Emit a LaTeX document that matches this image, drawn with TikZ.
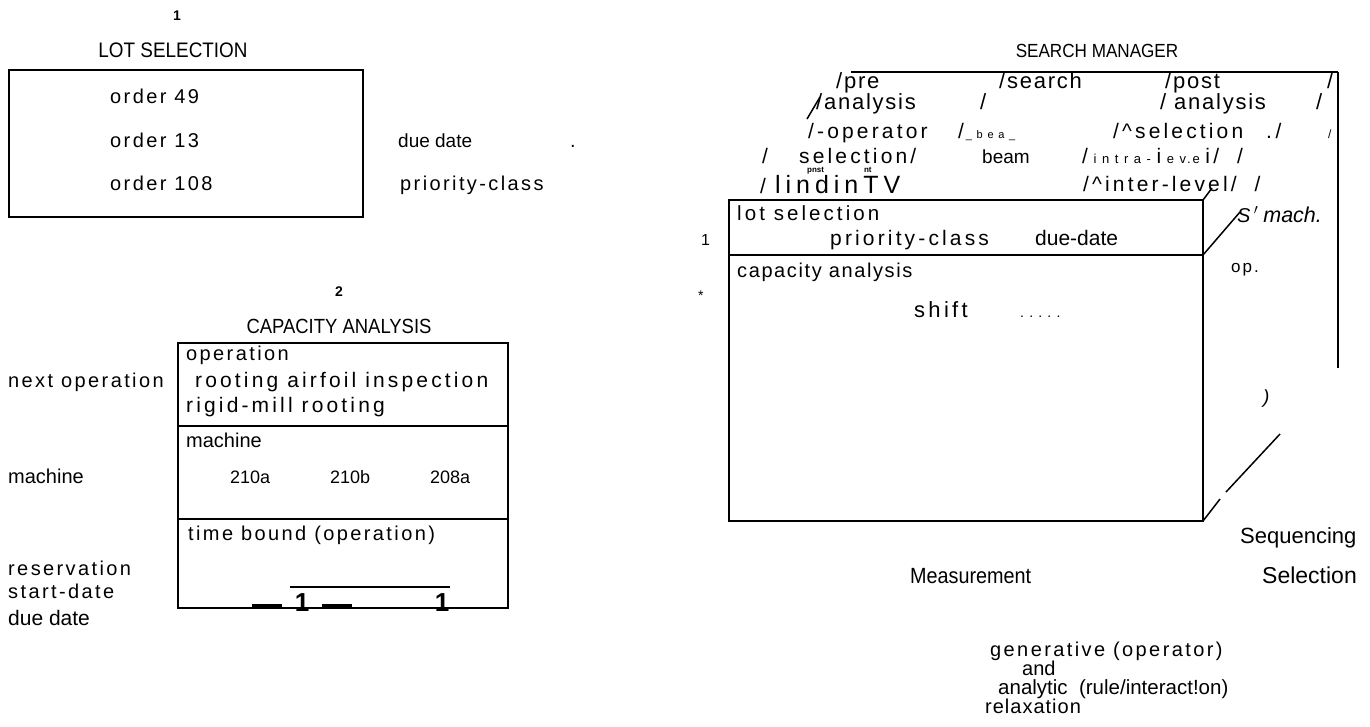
\documentclass[tikz,border=0pt]{standalone}
\usepackage{fontspec}
\setmainfont{Liberation Sans}
\newfontfamily\spc[LetterSpace=12]{Liberation Sans}
\newfontfamily\spw[LetterSpace=15]{Liberation Sans}
\newfontfamily\spm[LetterSpace=8]{Liberation Sans}
\newfontfamily\spl[LetterSpace=5]{Liberation Sans}
\newfontfamily\nrw[FakeStretch=0.9]{Liberation Sans}
\begin{document}
\begin{tikzpicture}[x=1pt,y=-1pt,
  tx/.style={inner sep=0pt, anchor=base west, font=\spc\fontsize{20}{22}\selectfont},
  tw/.style={inner sep=0pt, anchor=base west, font=\spw\fontsize{21}{23}\selectfont},
  tl/.style={inner sep=0pt, anchor=base west, font=\spl\fontsize{20}{22}\selectfont},
  pl/.style={inner sep=0pt, anchor=base west, font=\fontsize{20}{22}\selectfont},
  hd/.style={inner sep=0pt, anchor=base, font=\nrw\fontsize{19}{21}\selectfont},
  nr/.style={inner sep=0pt, anchor=base west, font=\nrw\fontsize{20}{22}\selectfont},
  big/.style={inner sep=0pt, anchor=base west, font=\spm\fontsize{22}{24}\selectfont},
  num/.style={inner sep=0pt, anchor=base, font=\bfseries\fontsize{14}{16}\selectfont},
  frame/.style={draw, line width=2pt},
  edge/.style={draw, line width=1.5pt},
]
\useasboundingbox (0,0) rectangle (1370,726);

% ---------- LOT SELECTION ----------
\node[num] (n1) at (177,20) {1};
\node[hd, font=\nrw\fontsize{21}{23}\selectfont] (lsT) at (173,57) {LOT SELECTION};
\draw[frame] (9,70) rectangle (363,217);
\node[tx] (o49) at (110,103) {order 49};
\node[tx] (o13) at (110,147) {order 13};
\node[tx] (o108) at (110,190) {order 108};
\node[pl, font=\fontsize{19}{22}\selectfont] (dd) at (398,147) {due date};
\node[tx] (dot1) at (570,147) {.};
\node[tx] (pc) at (400,190) {priority-class};

% ---------- CAPACITY ANALYSIS ----------
\node[num] (n2) at (339,296) {2};
\node[hd, font=\nrw\fontsize{20.5}{23}\selectfont] (caT) at (339,333) {CAPACITY ANALYSIS};
\draw[frame] (178,343) rectangle (508,608);
\draw[frame] (178,426) -- (508,426);
\draw[frame] (178,519) -- (508,519);
\node[tx] (op) at (186,360) {operation};
\node[tw] (roo) at (195,387) {rooting airfoil inspection};
\node[tw] (rig) at (186,412) {rigid-mill rooting};
\node[tx] (nop) at (8,387) {next operation};
\node[pl] (mach) at (186,447) {machine};
\node[pl] (machL) at (8,483) {machine};
\node[pl, font=\fontsize{18}{20}\selectfont] (m1) at (230,483) {210a};
\node[pl, font=\fontsize{18}{20}\selectfont] (m2) at (330,483) {210b};
\node[pl, font=\fontsize{18}{20}\selectfont] (m3) at (430,483) {208a};
\node[tx] (tb) at (188,540) {time bound (operation)};
\node[tx] (res) at (8,575) {reservation};
\node[tx] (sd) at (8,598) {start-date};
\node[pl, font=\fontsize{21}{23}\selectfont] (due) at (8,625) {due date};
\draw[line width=2pt] (290,587) -- (450,587);
\draw[line width=3pt] (252,605) -- (282,605);
\draw[line width=3pt] (322,605) -- (352,605);
\node[inner sep=0pt, anchor=base, font=\bfseries\fontsize{26}{28}\selectfont] (b1) at (302,611) {1};
\node[inner sep=0pt, anchor=base, font=\bfseries\fontsize{26}{28}\selectfont] (b2) at (442,611) {1};

% ---------- SEARCH MANAGER ----------
\node[hd] (smT) at (1097,57) {SEARCH MANAGER};
\draw[frame] (851,72) -- (1338,72);
\draw[edge] (1338,72) -- (1338,368);
% row 1
\node[big] (r1a) at (836,88) {/pre};
\node[big] (r1b) at (999,88) {/search};
\node[big] (r1c) at (1165,88) {/post};
\node[big] (r1d) at (1327,88) {/};
% row 2
\draw[edge] (807,119) -- (820,97);
\node[big] (r2a) at (816,109) {/analysis};
\node[big] (r2b) at (980,109) {/};
\node[big] (r2c) at (1160,109) {/ analysis};
\node[big] (r2d) at (1316,109) {/};
% row 3
\node[tw] (r3a) at (808,138) {/-operator};
\node[tw] (r3b) at (958,138) {/{\fontsize{11}{12}\selectfont\,\_ b e a \_}};
\node[tw] (r3c) at (1113,138) {/\textasciicircum selection};
\node[tw] (r3d) at (1266,138) {.\,/};
\node[tw] (r3e) at (1328,138) {\fontsize{12}{12}\selectfont /};
% row 4
\node[tw] (r4a) at (762,163) {/};
\node[tw] (r4b) at (799,163) {selection/};
\node[pl, font=\fontsize{19}{22}\selectfont] (r4c) at (982,163) {beam};
\node[tw] (r4d) at (1082,163) {/{\fontsize{13}{14}\selectfont\ i n t r a - }i{\fontsize{13}{14}\selectfont\ e v.e }i/ \ /};
% row 5
\node[inner sep=0pt, anchor=base west, font=\bfseries\fontsize{8}{9}\selectfont] (r5t) at (807,172) {pnst\hspace{40pt}nt};
\node[tw] (r5a) at (760,193) {/ {\addfontfeature{LetterSpace=20}\fontsize{25}{28}\selectfont lindinTV}};
\node[tw] (r5b) at (1083,191) {/\textasciicircum inter-level/ \ /};

% front box
\draw[frame] (729,200) rectangle (1203,521);
\draw[frame] (729,255) -- (1203,255);
\coordinate (ftr) at (1203,200);
\coordinate (fmr) at (1203,255);
\coordinate (fbr) at (1203,521);
\coordinate (ftrE) at (1212,188);
\coordinate (fmrE) at (1240,212);
\coordinate (fbrE) at (1220,499);
\coordinate (dA) at (1226,492);
\coordinate (dB) at (1280,434);
\draw[edge] (ftr) -- (ftrE);
\draw[edge] (fmr) -- (fmrE);
\draw[edge] (fbr) -- (fbrE);
\draw[edge] (dA) -- (dB);

\node[tw, font=\spw\fontsize{20.5}{23}\selectfont] (ls) at (737,220) {lot selection};
\node[tw] (pc2) at (830,245) {priority-class};
\node[pl, font=\fontsize{21}{23}\selectfont] (dd2) at (1035,245) {due-date};
\node[inner sep=0pt, anchor=base west, font=\fontsize{16}{18}\selectfont] (one) at (701,245) {1};
\node[tx, font=\spm\fontsize{20}{22}\selectfont] (ca) at (737,277) {capacity analysis};
\node[inner sep=0pt, anchor=base west, font=\fontsize{14}{16}\selectfont] (star) at (698,300) {*};
\node[tw, font=\spw\fontsize{22}{24}\selectfont] (sh) at (914,317) {shift};
\node[inner sep=0pt, anchor=base west, font=\fontsize{14}{16}\selectfont] (dots) at (1020,317) {. . . . .};
\node[inner sep=0pt, anchor=base west, font=\itshape\fontsize{20}{22}\selectfont] (smach) at (1237,222) {S\,$'$\hspace{5pt}{\fontsize{21.5}{23}\selectfont mach.}};
\node[tx, font=\spc\fontsize{17}{19}\selectfont] (opp) at (1231,272) {op.};
\node[inner sep=0pt, anchor=base west, font=\itshape\fontsize{19}{22}\selectfont] (par) at (1263,403) {)};
\node[pl, font=\fontsize{22}{24}\selectfont] (seq) at (1240,543) {Sequencing};
\node[nr, font=\nrw\fontsize{22}{24}\selectfont] (meas) at (910,583) {Measurement};
\node[pl, font=\fontsize{23}{25}\selectfont] (sel) at (1262,583) {Selection};

\node[tx] (gen) at (990,656) {generative (operator)};
\node[pl] (and) at (1022,675) {and};
\node[pl, font=\fontsize{20.5}{22}\selectfont] (ana) at (998,694) {analytic \ (rule/interact!on)};
\node[tl] (rel) at (985,713) {relaxation};
\end{tikzpicture}
\end{document}
